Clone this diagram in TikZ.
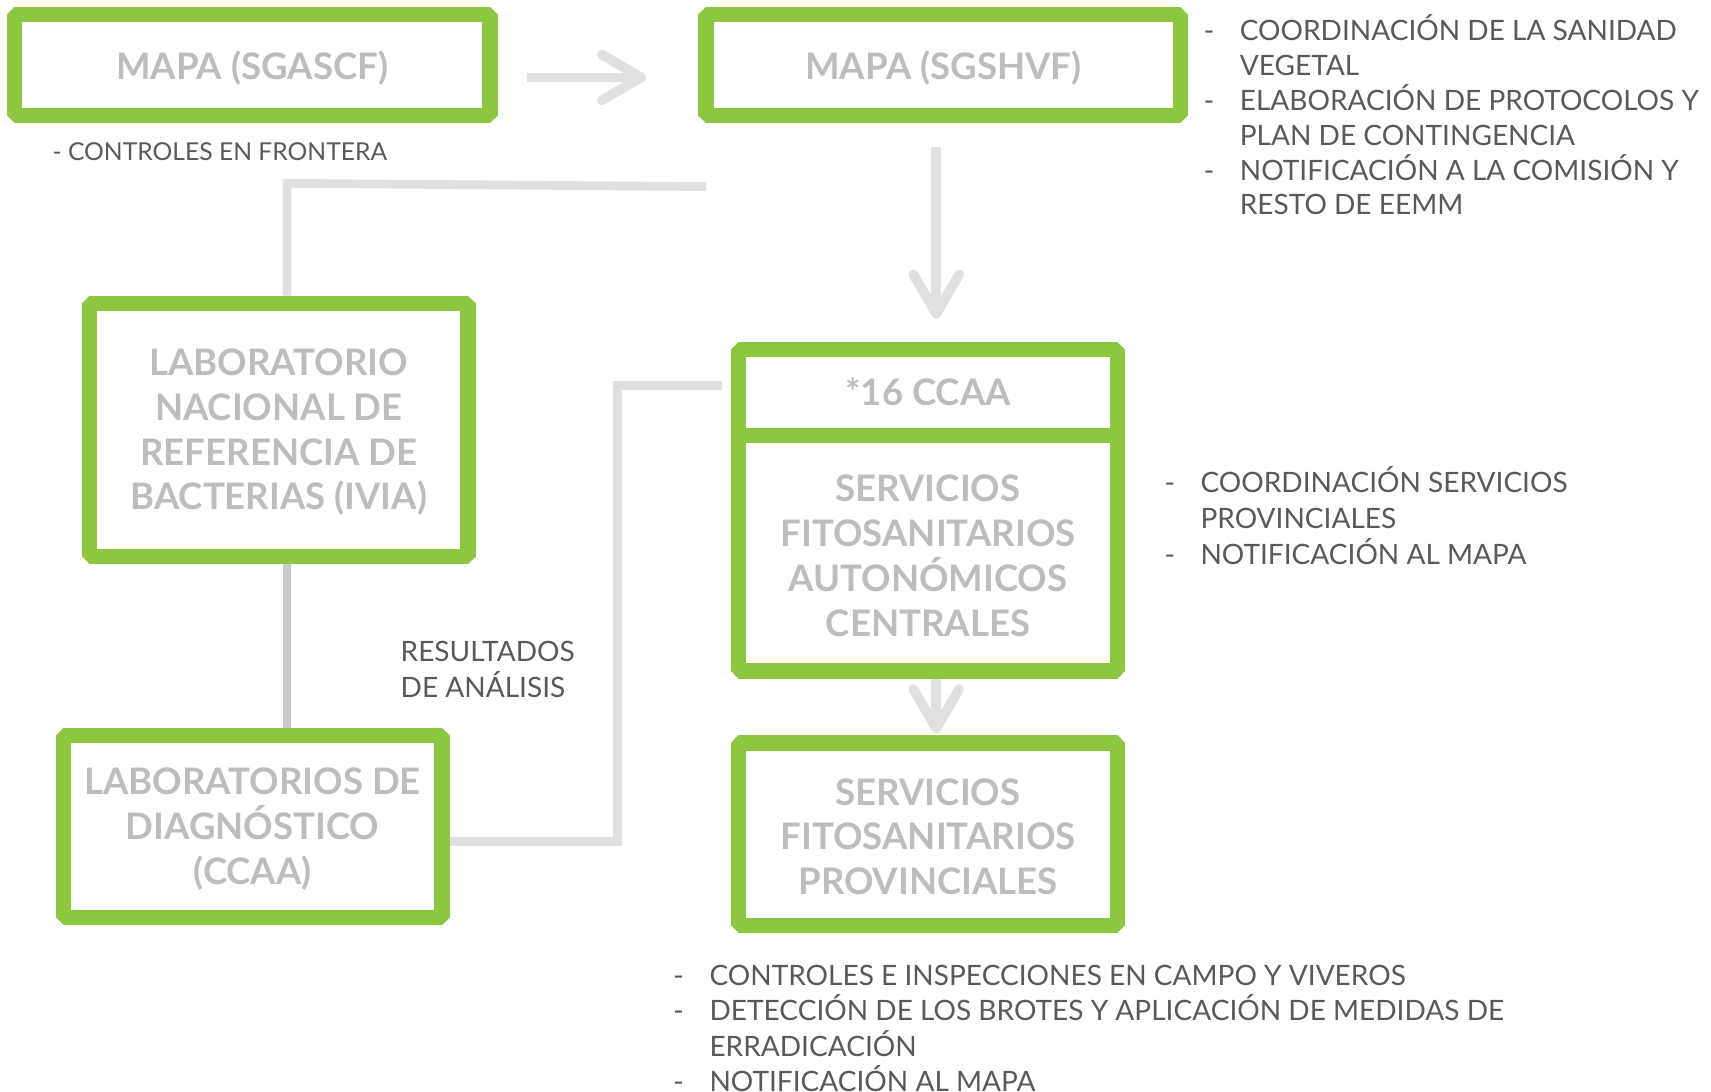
\documentclass[tikz,border=0pt]{standalone}
\usepackage{fontspec}
\setmainfont{Lato}
\usetikzlibrary{arrows.meta,calc}
\definecolor{grn}{HTML}{8DC63F}
\definecolor{boxtxt}{HTML}{BDBDBD}
\definecolor{sidetxt}{HTML}{595959}
\definecolor{connl}{HTML}{E0E0E0}
\definecolor{connd}{HTML}{CACACA}
\newcommand{\sm}[1]{\smash{#1}}
\newcommand{\tpad}{\rule{0pt}{6pt}\\[-18pt]}
\newcommand{\dropby}[1]{\raisebox{0pt}[\dimexpr\height+5pt\relax]{#1}}
\tikzset{
  gbox/.style={draw=grn, line width=14pt, line join=bevel, fill=white, inner sep=0pt,
    font=\fontsize{33.5}{41}\selectfont\bfseries, text=boxtxt, align=center},
  sidetext/.style={inner sep=0pt, text=sidetxt, anchor=base west},
  lconn/.style={draw=connl, line width=8pt},
  dconn/.style={draw=connd, line width=8pt},
  conarrow/.style={draw=connl, line width=9pt, -{Straight Barb[length=36pt,width=42pt,round]}}
}
\begin{document}
\begin{tikzpicture}[x=1pt,y=-1pt]
\useasboundingbox (0,0) rectangle (1568,1000);

% boxes
\node[gbox, minimum width=436pt, minimum height=93pt] (sgascf) at (231,59.5) {\dropby{MAPA (SGASCF)}};
\node[gbox, minimum width=435pt, minimum height=93pt] (sgshvf) at (864.5,59.5) {\dropby{MAPA (SGSHVF)}};
\node[gbox, minimum width=347pt, minimum height=232pt] (labnac) at (255.5,394) {\tpad LABORATORIO\\NACIONAL DE\\REFERENCIA DE\\BACTERIAS (IVIA)};
\node[gbox, minimum width=347pt, minimum height=167pt] (labdiag) at (231.5,757.5) {\tpad LABORATORIOS DE\\DIAGNÓSTICO\\(CCAA)};
\node[gbox, minimum width=347pt, minimum height=216pt] (sfac) at (850.5,507) {\tpad SERVICIOS\\FITOSANITARIOS\\AUTONÓMICOS\\CENTRALES};
\node[gbox, minimum width=347pt, minimum height=79pt] (ccaa) at (850.5,359.5) {*16 CCAA};
\node[gbox, minimum width=347pt, minimum height=167pt] (sfprov) at (850.5,764.5) {\tpad SERVICIOS\\FITOSANITARIOS\\PROVINCIALES};

% connectors
\draw[conarrow] ([shift={(27,11.5)}]sgascf.east) -- ([shift={(-48,11.5)}]sgshvf.west);
\draw[conarrow] ([shift={(-6.5,22)}]sgshvf.south) -- ([shift={(7.5,-21)}]ccaa.north);
\draw[conarrow] ([shift={(7.5,0)}]sfac.south) -- ([shift={(7.5,-2)}]sfprov.north);

\coordinate (c1) at (647,171);
\draw[lconn] (c1) -- (263,168) -- ([shift={(7.5,0)}]labnac.north);
\draw[dconn] ([shift={(7.5,0)}]labnac.south) -- ([shift={(7.5,0)}]labnac.south |- labdiag.north);
\coordinate (c2) at (662,353);
\draw[lconn] ([shift={(0,13.5)}]labdiag.east) -| ($(c2)+(-96,0)$) -- (c2);

% texts
\node[sidetext, font=\fontsize{22.6}{28}\selectfont] (t0) at (48,147) {- CONTROLES EN FRONTERA};

\node[sidetext, font=\fontsize{25.7}{32}\selectfont] (t1) at (1103,37) {%
\begin{tabular}[t]{@{}p{33pt}@{}l@{}}
-&\sm{COORDINACIÓN DE LA SANIDAD}\\
&\sm{VEGETAL}\\
-&\sm{ELABORACIÓN DE PROTOCOLOS Y}\\
&\sm{PLAN DE CONTINGENCIA}\\
-&\sm{NOTIFICACIÓN A LA COMISIÓN Y}\\
&\sm{RESTO DE EEMM}
\end{tabular}};

\node[sidetext, font=\fontsize{25.7}{33}\selectfont] (t2) at (1067,451) {%
\begin{tabular}[t]{@{}p{33pt}@{}l@{}}
-&\sm{COORDINACIÓN SERVICIOS}\\
&\sm{PROVINCIALES}\\
-&\sm{NOTIFICACIÓN AL MAPA}
\end{tabular}};

\node[sidetext, font=\fontsize{25.7}{32.4}\selectfont] (t3) at (617,903) {%
\begin{tabular}[t]{@{}p{33pt}@{}l@{}}
-&\sm{CONTROLES E INSPECCIONES EN CAMPO Y VIVEROS}\\
-&\sm{DETECCIÓN DE LOS BROTES Y APLICACIÓN DE MEDIDAS DE}\\
&\sm{ERRADICACIÓN}\\
-&\sm{NOTIFICACIÓN AL MAPA}
\end{tabular}};

\node[sidetext, font=\fontsize{25.7}{33}\selectfont, align=left] (t4) at (367,639) {RESULTADOS\\DE ANÁLISIS};
\end{tikzpicture}
\end{document}
